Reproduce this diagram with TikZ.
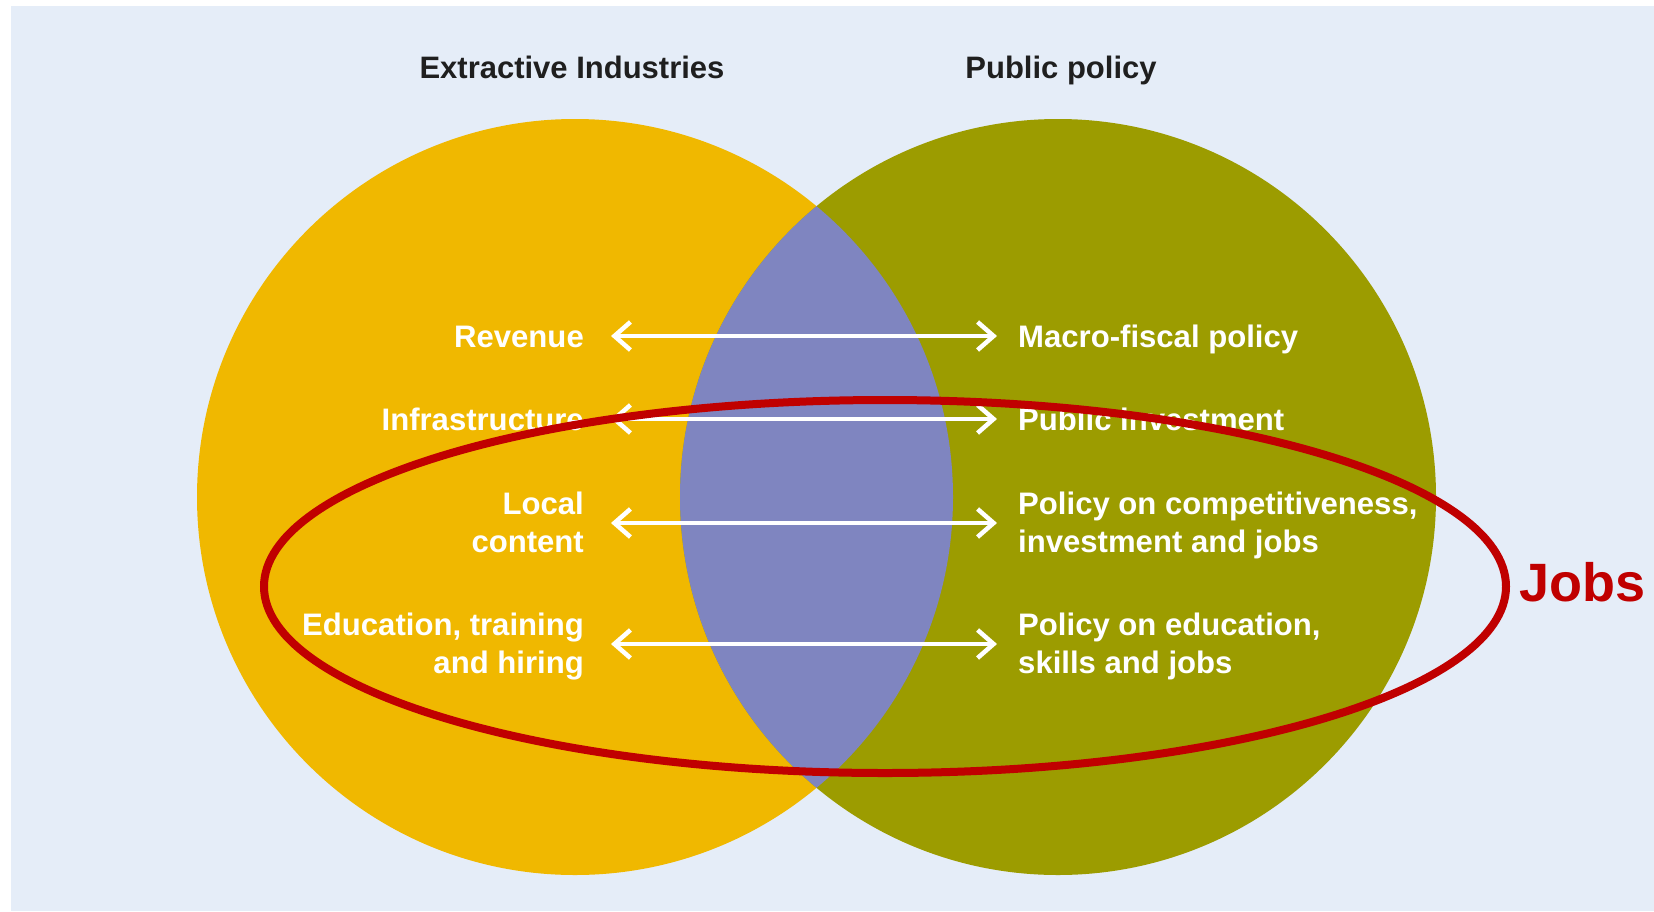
\documentclass[tikz,border=0pt]{standalone}
\usepackage{fontspec}
\setmainfont{Liberation Sans}
\usetikzlibrary{arrows.meta}
\definecolor{bgc}{HTML}{E5EDF8}
\definecolor{goldc}{HTML}{F0B800}
\definecolor{olivec}{HTML}{9C9C00}
\definecolor{lavc}{HTML}{7F85C0}
\definecolor{redc}{HTML}{C00000}
\definecolor{darkc}{HTML}{1F1F1F}
\tikzset{
  title/.style={anchor=base, inner sep=0pt, text=darkc, font=\fontsize{31}{37}\selectfont\bfseries},
  itemL/.style={anchor=base east, inner sep=0pt, align=right, text=white, font=\fontsize{31.1}{37.5}\selectfont\bfseries},
  itemR/.style={anchor=base west, inner sep=0pt, align=left, text=white, font=\fontsize{31.1}{37.5}\selectfont\bfseries},
  arr/.style={draw=white, line width=4.5pt, {Straight Barb[length=16pt,width=28pt]}-{Straight Barb[length=16pt,width=28pt]}},
  jobsring/.style={draw=redc, line width=8pt},
}
\begin{document}
\begin{tikzpicture}[x=1pt,y=-1pt]
\useasboundingbox (0,0) rectangle (1654,911);
\fill[white] (0,0) rectangle (1654,911);
\fill[bgc] (11,6) rectangle (1654,911);
% circles
\fill[goldc] (575,497) circle[radius=378pt];
\fill[olivec] (1058,497) circle[radius=378pt];
\begin{scope}
  \clip (575,497) circle[radius=378pt];
  \fill[lavc] (1058,497) circle[radius=378pt];
\end{scope}
% titles
\node[title] (t1) at (572,78) {Extractive Industries};
\node[title] (t2) at (1061,78) {Public policy};
% left items (base = last line)
\node[itemL] (rev) at (584,347) {Revenue};
\node[itemL] (inf) at (584,430) {Infrastructure};
\node[itemL] (loc) at (584,552) {Local\\content};
\node[itemL] (edu) at (584,673) {Education, training\\and hiring};
% right items
\node[itemR] (mac) at (1018,347) {Macro-fiscal policy};
\node[itemR] (pub) at (1018,430) {Public investment};
\node[itemR] (com) at (1018,552) {Policy on competitiveness,\\investment and jobs};
\node[itemR] (ped) at (1018,673) {Policy on education,\\skills and jobs};
% arrows
\coordinate (a1l) at (611,336); \coordinate (a1r) at (997,336);
\coordinate (a2l) at (611,419); \coordinate (a2r) at (997,419);
\coordinate (a3l) at (611,523); \coordinate (a3r) at (997,523);
\coordinate (a4l) at (611,644); \coordinate (a4r) at (997,644);
\draw[arr] (a1l) -- (a1r);
\draw[arr] (a2l) -- (a2r);
\draw[arr] (a3l) -- (a3r);
\draw[arr] (a4l) -- (a4r);
% jobs ring
\draw[jobsring] (885,586.5) ellipse[x radius=621pt, y radius=186.5pt];
\node[anchor=base west, inner sep=0pt, text=redc, font=\fontsize{54}{62}\selectfont\bfseries] (jobs) at (1519,601) {Jobs};
\end{tikzpicture}
\end{document}
